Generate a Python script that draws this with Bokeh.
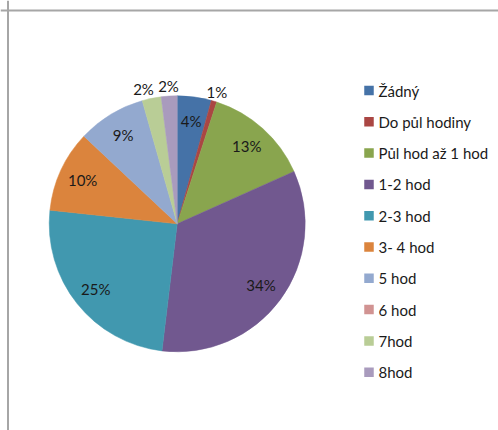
import math
from bokeh.plotting import figure
from bokeh.models import Range1d, Span, ColumnDataSource
from bokeh.core.properties import value
from bokeh.embed import file_html
from bokeh.resources import INLINE

# ---- data ----
categories = ["Žádný", "Do půl hodiny", "Půl hod až 1 hod", "1-2 hod", "2-3 hod",
              "3- 4 hod", "5 hod", "6 hod", "7hod", "8hod"]
shares = [4.3, 0.7, 13.3, 33.6, 24.8, 10.3, 8.6, 0.0, 2.4, 2.0]
colors = ["#4572A7", "#AA4643", "#89A54E", "#71588F", "#4198AF",
          "#DB843D", "#93A9CF", "#D19392", "#B9CD96", "#A99BBD"]

# ---- layout ----
W, H = 498, 430
FONT = "Lato"
FS = "15px"
TXT = "#1a1a1a"
cx, cy, R = 176.7, 206.7, 128

p = figure(width=W, height=H, x_range=Range1d(0, W), y_range=Range1d(0, H),
           output_backend="svg", toolbar_location=None,
           x_axis_location=None, y_axis_location=None, min_border=0)
p.outline_line_color = None
p.grid.visible = False
p.background_fill_color = "white"
p.border_fill_color = "white"

# chart-area border (left and top only visible)
p.add_layout(Span(location=7.5, dimension="height", line_color="#a6a6a6", line_width=2))
p.add_layout(Span(location=420, dimension="width", line_color="#a6a6a6", line_width=2))

total = sum(shares)
w_start, w_end, w_col = [], [], []
lab_x, lab_y, lab_t, out_items = [], [], [], []
cum = 0.0
for v, c in zip(shares, colors):
    a0 = math.pi / 2 - 2 * math.pi * cum / total
    cum += v
    a1 = math.pi / 2 - 2 * math.pi * cum / total
    if v <= 0:
        continue
    w_start.append(a1)
    w_end.append(a0)
    w_col.append(c)
    mid = (a0 + a1) / 2
    pct = v / total * 100
    txt = f"{round(pct)}%"
    if pct < 3:
        r = R + 10
        out_items.append([cx + r * math.cos(mid), cy + r * math.sin(mid), txt])
    else:
        r = 104
        lab_x.append(cx + r * math.cos(mid))
        lab_y.append(cy + r * math.sin(mid))
        lab_t.append(txt)

# simple collision avoidance for outside labels
out_items.sort(key=lambda t: t[0])
for i in range(len(out_items) - 1, 0, -1):
    gap = out_items[i][0] - out_items[i - 1][0]
    if gap < 25 and abs(out_items[i][1] - out_items[i - 1][1]) < 14:
        out_items[i - 1][0] -= (25 - gap)
for x, y, t in out_items:
    lab_x.append(x)
    lab_y.append(y)
    lab_t.append(t)

src = ColumnDataSource(dict(s=w_start, e=w_end, c=w_col))
p.wedge(x=cx, y=cy, radius=R, start_angle="s", end_angle="e",
        fill_color="c", line_color="c", line_width=0.5, source=src)

p.text(x=lab_x, y=lab_y, text=lab_t, text_align="center", text_baseline="middle",
       text_font=value(FONT), text_font_size=FS, text_color=TXT)

# legend
leg_top, leg_step = 340, 31.3
ly = [leg_top - leg_step * i for i in range(len(categories))]
p.rect(x=[368.5] * len(categories), y=ly, width=9.5, height=9.5,
       fill_color=colors, line_color=None)
p.text(x=[378] * len(categories), y=ly, text=categories, text_align="left",
       text_baseline="middle", text_font=value(FONT), text_font_size=FS,
       text_color=TXT)

open("out.html", "w").write(file_html(p, INLINE))
